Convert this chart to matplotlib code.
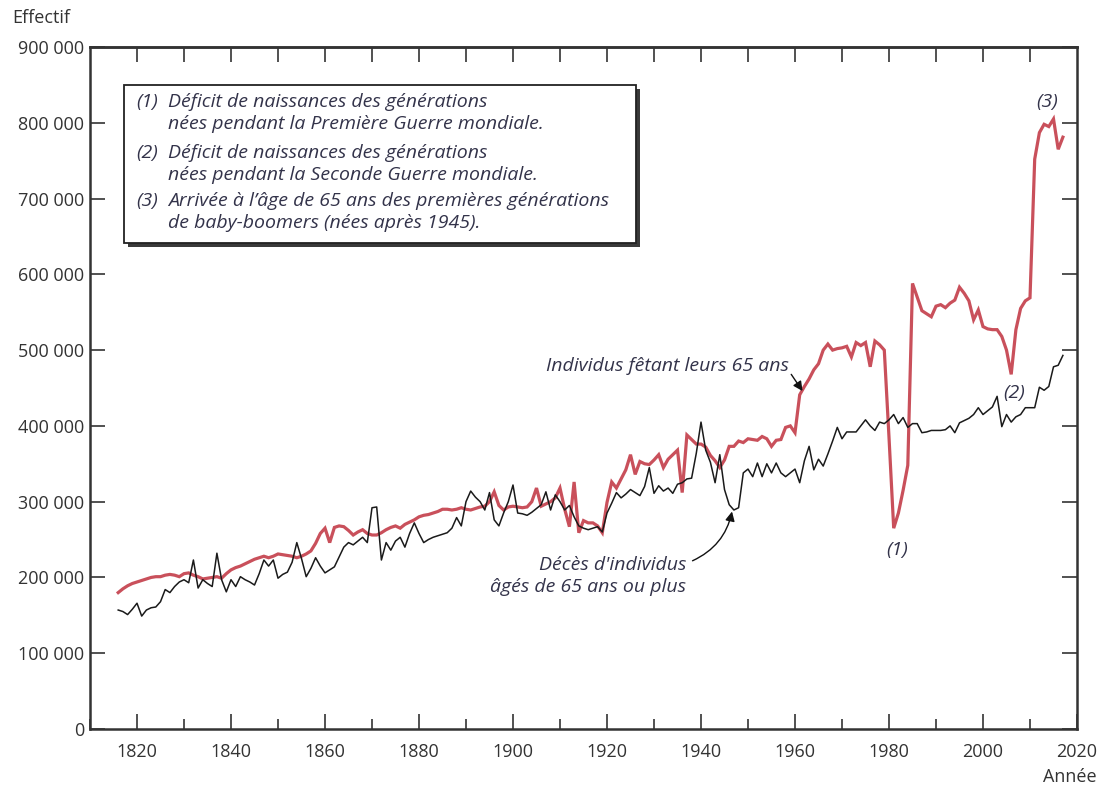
import matplotlib
matplotlib.use("Agg")
import matplotlib.pyplot as plt
from matplotlib.patches import Rectangle
from matplotlib.ticker import MultipleLocator, FuncFormatter

# years 1816 -> 2017
years = list(range(1816, 2018))

# individus fêtant leurs 65 ans
anniv_65 = [
    180000, 185000, 189000, 192000,                                          # 1816-1819
    194000, 196000, 198000, 200000, 201000, 201000, 203000, 204000, 203000, 201000,  # 1820s
    205000, 206000, 203000, 201000, 198000, 199000, 200000, 201000, 199000, 205000,  # 1830s
    210000, 213000, 215000, 218000, 221000, 224000, 226000, 228000, 226000, 228000,  # 1840s
    231000, 230000, 229000, 228000, 226000, 228000, 231000, 235000, 245000, 258000,  # 1850s
    265000, 246000, 266000, 268000, 267000, 262000, 256000, 260000, 263000, 258000,  # 1860s
    256000, 256000, 259000, 263000, 266000, 268000, 265000, 270000, 273000, 276000,  # 1870s
    280000, 282000, 283000, 285000, 287000, 290000, 290000, 289000, 290000, 292000,  # 1880s
    290000, 289000, 291000, 293000, 294000, 300000, 313000, 295000, 289000, 293000,  # 1890s
    294000, 293000, 292000, 293000, 300000, 318000, 294000, 297000, 300000, 305000,  # 1900s
    318000, 290000, 267000, 326000, 259000, 275000, 272000, 272000, 268000, 259000,  # 1910s
    299000, 326000, 318000, 330000, 342000, 362000, 336000, 353000, 350000, 349000,  # 1920s
    355000, 362000, 345000, 356000, 362000, 368000, 312000, 388000, 382000, 376000,  # 1930s
    376000, 372000, 361000, 354000, 345000, 355000, 373000, 373000, 380000, 378000,  # 1940s
    383000, 382000, 381000, 386000, 383000, 373000, 381000, 382000, 398000, 400000,  # 1950s
    391000, 441000, 452000, 462000, 474000, 482000, 500000, 508000, 500000, 502000,  # 1960s
    503000, 505000, 491000, 510000, 506000, 510000, 478000, 512000, 507000, 500000,  # 1970s
    385000, 265000, 285000, 315000, 348000, 588000, 570000, 552000, 548000, 544000,  # 1980s
    558000, 560000, 556000, 562000, 566000, 583000, 575000, 565000, 540000, 553000,  # 1990s
    531000, 528000, 527000, 527000, 518000, 500000, 468000, 527000, 555000, 565000,  # 2000s
    569000, 752000, 787000, 798000, 795000, 805000, 765000, 781000,                  # 2010-2017
]

# décès d'individus âgés de 65 ans ou plus
deces_65 = [
    157000, 155000, 151000, 158000,                                          # 1816-1819
    166000, 149000, 157000, 160000, 161000, 168000, 184000, 180000, 188000, 194000,  # 1820s
    197000, 193000, 223000, 186000, 197000, 192000, 188000, 232000, 197000, 181000,  # 1830s
    197000, 188000, 201000, 197000, 194000, 190000, 205000, 223000, 215000, 223000,  # 1840s
    199000, 204000, 207000, 220000, 246000, 225000, 201000, 212000, 226000, 215000,  # 1850s
    206000, 210000, 214000, 227000, 240000, 246000, 243000, 248000, 253000, 246000,  # 1860s
    292000, 293000, 223000, 246000, 236000, 248000, 253000, 240000, 258000, 272000,  # 1870s
    258000, 246000, 250000, 253000, 255000, 257000, 259000, 265000, 279000, 268000,  # 1880s
    300000, 314000, 306000, 300000, 289000, 312000, 276000, 268000, 285000, 300000,  # 1890s
    322000, 285000, 284000, 282000, 286000, 291000, 296000, 313000, 289000, 309000,  # 1900s
    300000, 289000, 295000, 280000, 268000, 265000, 263000, 265000, 267000, 260000,  # 1910s
    285000, 298000, 312000, 305000, 310000, 316000, 312000, 308000, 320000, 345000,  # 1920s
    311000, 321000, 314000, 318000, 311000, 323000, 325000, 330000, 331000, 364000,  # 1930s
    405000, 368000, 352000, 325000, 362000, 316000, 296000, 289000, 292000, 338000,  # 1940s
    343000, 333000, 351000, 333000, 350000, 338000, 351000, 338000, 333000, 338000,  # 1950s
    343000, 325000, 354000, 373000, 342000, 356000, 347000, 363000, 380000, 398000,  # 1960s
    383000, 392000, 392000, 392000, 400000, 408000, 400000, 394000, 405000, 403000,  # 1970s
    408000, 415000, 403000, 411000, 398000, 403000, 403000, 391000, 392000, 394000,  # 1980s
    394000, 394000, 395000, 400000, 391000, 404000, 407000, 410000, 415000, 424000,  # 1990s
    415000, 420000, 425000, 439000, 399000, 415000, 405000, 412000, 415000, 424000,  # 2000s
    424000, 424000, 451000, 447000, 452000, 478000, 480000, 493000,                  # 2010-2017
]

notes = [
    ("(1)", "Déficit de naissances des générations",
     "nées pendant la Première Guerre mondiale."),
    ("(2)", "Déficit de naissances des générations",
     "nées pendant la Seconde Guerre mondiale."),
    ("(3)", "Arrivée à l\u2019âge de 65 ans des premières générations",
     "de baby-boomers (nées après 1945)."),
]

RED = "#c9505b"
INK = "#333333"
TXT = "#33334a"
W, H = 1102, 786
FS = 14

plt.rcParams["font.family"] = ["Open Sans", "DejaVu Sans"]


def px(x, y):
    return (x / W, 1 - y / H)


fig = plt.figure(figsize=(W / 100, H / 100), dpi=100)
ax = fig.add_axes([90 / W, 1 - 729 / H, (1077 - 90) / W, (729 - 47) / H])

ax.plot(years, anniv_65, color=RED, lw=2.3, zorder=2, solid_joinstyle="miter")
ax.plot(years, deces_65, color="#1a1a1a", lw=1.1, zorder=3)

ax.set_xlim(1810, 2020)
ax.set_ylim(0, 900000)
ax.xaxis.set_major_locator(MultipleLocator(20))
ax.xaxis.set_minor_locator(MultipleLocator(10))
ax.yaxis.set_major_locator(MultipleLocator(100000))
ax.yaxis.set_major_formatter(FuncFormatter(lambda v, p: f"{int(v):,}".replace(",", " ")))

ax.tick_params(axis="both", which="major", direction="in", length=11, width=1.2,
               color=INK, labelcolor=INK, labelsize=13)
ax.tick_params(axis="x", which="minor", direction="in", length=7, width=1.2, color=INK)
ax.tick_params(axis="y", right=True, pad=4)
ax.tick_params(axis="x", pad=10)

top = ax.secondary_xaxis("top")
top.set_xticks(range(1820, 2020, 10))
top.tick_params(direction="in", length=11, width=1.2, color=INK, labeltop=False)
top.spines["top"].set_linewidth(1.8)
top.spines["top"].set_color(INK)

for s in ax.spines.values():
    s.set_linewidth(1.8)
    s.set_color(INK)

fig.text(*px(12, 18), "Effectif", ha="left", va="center", fontsize=13, color=INK)
fig.text(*px(1097, 777), "Année", ha="right", va="center", fontsize=13, color=INK)

# boîte de notes
bw, bh = 512, 158
fig.add_artist(Rectangle(px(128, 247), bw / W, bh / H, transform=fig.transFigure,
                         fc="#3a3a3a", ec="none", zorder=1))
fig.add_artist(Rectangle(px(124, 243), bw / W, bh / H, transform=fig.transFigure,
                         fc="white", ec="#222222", lw=1.3, zorder=2))
line_y = [(102, 124), (153, 175), (201, 223)]
for (num, l1, l2), (y1, y2) in zip(notes, line_y):
    fig.text(*px(136, y1), num, ha="left", va="center", fontsize=FS,
             style="italic", color=TXT, zorder=3)
    fig.text(*px(168, y1), l1, ha="left", va="center", fontsize=FS,
             style="italic", color=TXT, zorder=3)
    fig.text(*px(168, y2), l2, ha="left", va="center", fontsize=FS,
             style="italic", color=TXT, zorder=3)

# annotations des courbes
ax.text(1958.6, 479000, "Individus fêtant leurs 65 ans", ha="right", va="center",
        fontsize=FS, style="italic", color=TXT)
ax.annotate("", xy=(1961.6, 446000), xytext=(1959.2, 468000),
            arrowprops=dict(arrowstyle="-|>", color="#111111", lw=1.0,
                            mutation_scale=14, shrinkA=0, shrinkB=0))
ax.text(1936.8, 202000, "Décès d'individus\nâgés de 65 ans ou plus", ha="right",
        va="center", multialignment="right", fontsize=FS, style="italic",
        color=TXT, linespacing=1.25)
ax.annotate("", xy=(1946.6, 287000), xytext=(1938.2, 222000),
            arrowprops=dict(arrowstyle="-|>", color="#111111", lw=1.0,
                            mutation_scale=14, shrinkA=0, shrinkB=0,
                            connectionstyle="arc3,rad=0.25"))

ax.text(1981.8, 236000, "(1)", ha="center", va="center", fontsize=FS,
        style="italic", color=TXT)
ax.text(2006.6, 444000, "(2)", ha="center", va="center", fontsize=FS,
        style="italic", color=TXT)
ax.text(2013.6, 828000, "(3)", ha="center", va="center", fontsize=FS,
        style="italic", color=TXT)

fig.savefig("out.png", dpi=100)
